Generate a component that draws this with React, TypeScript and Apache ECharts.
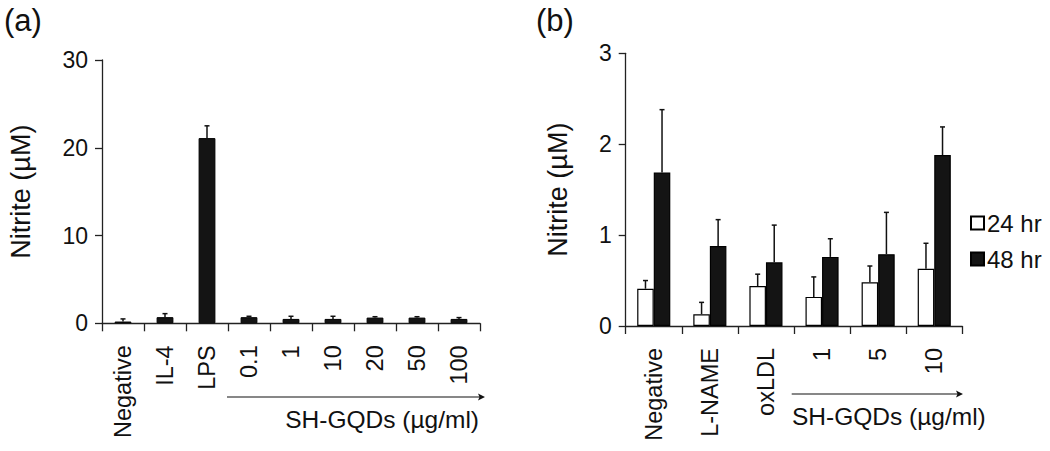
import React, { useEffect, useRef } from "react";
import * as echarts from "echarts";

const catsA = ["Negative", "IL-4", "LPS", "0.1", "1", "10", "20", "50", "100"];
const valsA = [0.2, 0.7, 21.1, 0.7, 0.5, 0.5, 0.65, 0.65, 0.5];
const errA = [0.3, 0.4, 1.4, 0.1, 0.3, 0.3, 0.1, 0.1, 0.15];
const ticksA = [0, 10, 20, 30];

const catsB = ["Negative", "L-NAME", "oxLDL", "1", "5", "10"];
const vals24 = [0.41, 0.13, 0.44, 0.32, 0.48, 0.63];
const err24 = [0.09, 0.13, 0.13, 0.22, 0.18, 0.28];
const vals48 = [1.69, 0.88, 0.7, 0.76, 0.79, 1.88];
const err48 = [0.69, 0.29, 0.41, 0.2, 0.46, 0.31];
const ticksB = [0, 1, 2, 3];

const FONT = "'Liberation Sans', Arial, Helvetica, sans-serif";
const INK = "#111";
const AXIS = "#222";

function errSeries(name: string, xi: number, vals: number[], errs: number[], offsetFrac: number) {
  return {
    type: "custom",
    name,
    xAxisIndex: xi,
    yAxisIndex: xi,
    z: 5,
    silent: true,
    data: vals.map((v, i) => [i, v, errs[i]]),
    encode: { x: 0, y: 1 },
    renderItem: (params: any, api: any) => {
      const i = api.value(0);
      const v = api.value(1);
      const e = api.value(2);
      const base = api.coord([i, v]);
      const top = api.coord([i, v + e]);
      const cw = api.size([1, 0])[0];
      const x = base[0] + cw * offsetFrac;
      const style = { stroke: INK, lineWidth: 1.5 };
      return {
        type: "group",
        children: [
          { type: "line", shape: { x1: x, y1: base[1], x2: x, y2: top[1] }, style },
          { type: "line", shape: { x1: x - 2.5, y1: top[1], x2: x + 2.5, y2: top[1] }, style },
        ],
      };
    },
  };
}

function yAxis(gi: number, ticks: number[], gap: number) {
  return {
    type: "value",
    gridIndex: gi,
    min: ticks[0],
    max: ticks[ticks.length - 1],
    interval: ticks[1] - ticks[0],
    name: "Nitrite (µM)",
    nameLocation: "middle",
    nameGap: gap,
    nameTextStyle: { fontSize: 27, color: INK, fontFamily: FONT },
    axisLine: { show: true, lineStyle: { color: AXIS, width: 1.3 } },
    axisTick: { show: true, length: 7, lineStyle: { color: AXIS, width: 1.3 } },
    axisLabel: { fontSize: 23, color: INK, fontFamily: FONT, margin: 14 },
    splitLine: { show: false },
  };
}

function xAxis(gi: number, cats: string[]) {
  return {
    type: "category",
    gridIndex: gi,
    data: cats,
    boundaryGap: true,
    axisLine: { show: true, onZero: false, lineStyle: { color: AXIS, width: 1.3 } },
    axisTick: { show: true, length: 8, interval: 0, lineStyle: { color: AXIS, width: 1.3 } },
    axisLabel: { rotate: 90, interval: 0, fontSize: 23.5, color: INK, fontFamily: FONT, margin: 22 },
    splitLine: { show: false },
  };
}

export default function App() {
  const ref = useRef<HTMLDivElement>(null);
  useEffect(() => {
    if (!ref.current) return;
    const chart = echarts.init(ref.current, undefined, { renderer: "svg" });
    const option: any = {
      animation: false,
      backgroundColor: "#fff",
      textStyle: { fontFamily: FONT },
      grid: [
        { left: 102, top: 60, width: 378, height: 263.3, containLabel: false },
        { left: 625.7, top: 53.3, width: 336.6, height: 272.7, containLabel: false },
      ],
      xAxis: [xAxis(0, catsA), xAxis(1, catsB)],
      yAxis: [yAxis(0, ticksA, 68), yAxis(1, ticksB, 54)],
      legend: {
        orient: "vertical",
        left: 965,
        top: 206,
        itemWidth: 13,
        itemHeight: 13,
        itemGap: 12,
        icon: "rect",
        data: ["24 hr", "48 hr"],
        textStyle: { fontSize: 24, color: INK, fontFamily: FONT, padding: [0, 0, 0, -2] },
        selectedMode: false,
      },
      series: [
        {
          type: "bar",
          name: "a",
          xAxisIndex: 0,
          yAxisIndex: 0,
          data: valsA,
          barWidth: "40%",
          itemStyle: { color: "#141414", borderColor: "#000", borderWidth: 1 },
        },
        errSeries("aerr", 0, valsA, errA, 0),
        {
          type: "bar",
          name: "24 hr",
          xAxisIndex: 1,
          yAxisIndex: 1,
          data: vals24,
          barWidth: "29.5%",
          barGap: "0%",
          itemStyle: { color: "#fff", borderColor: "#000", borderWidth: 1.2 },
        },
        {
          type: "bar",
          name: "48 hr",
          xAxisIndex: 1,
          yAxisIndex: 1,
          data: vals48,
          barWidth: "29.5%",
          barGap: "0%",
          itemStyle: { color: "#141414", borderColor: "#000", borderWidth: 1.2 },
        },
        errSeries("b24err", 1, vals24, err24, -0.1475),
        errSeries("b48err", 1, vals48, err48, 0.1475),
      ],
      graphic: [
        { type: "text", left: 4, top: 5, style: { text: "(a)", fontSize: 31, fill: INK, fontFamily: FONT } },
        { type: "text", left: 536, top: 5, style: { text: "(b)", fontSize: 31, fill: INK, fontFamily: FONT } },
        { type: "line", shape: { x1: 227, y1: 397, x2: 482, y2: 397 }, style: { stroke: INK, lineWidth: 1.2 } },
        { type: "polygon", shape: { points: [[478, 393.5], [485, 397], [478, 400.5], [479.5, 397]] }, style: { fill: INK } },
        {
          type: "text",
          x: 479,
          y: 419,
          style: { text: "SH-GQDs (µg/ml)", fontSize: 24.5, fill: INK, fontFamily: FONT, align: "right", verticalAlign: "middle" },
        },
        { type: "line", shape: { x1: 791.7, y1: 394, x2: 960, y2: 394 }, style: { stroke: INK, lineWidth: 1.2 } },
        { type: "polygon", shape: { points: [[956, 390.5], [963, 394], [956, 397.5], [957.5, 394]] }, style: { fill: INK } },
        {
          type: "text",
          x: 792,
          y: 416,
          style: { text: "SH-GQDs (µg/ml)", fontSize: 24.5, fill: INK, fontFamily: FONT, align: "left", verticalAlign: "middle" },
        },
      ],
    };
    chart.setOption(option);
    return () => chart.dispose();
  }, []);
  return (
    <div
      ref={ref}
      style={{ position: "absolute", left: 0, top: 0, width: 1050, height: 451, background: "#fff" }}
    />
  );
}
